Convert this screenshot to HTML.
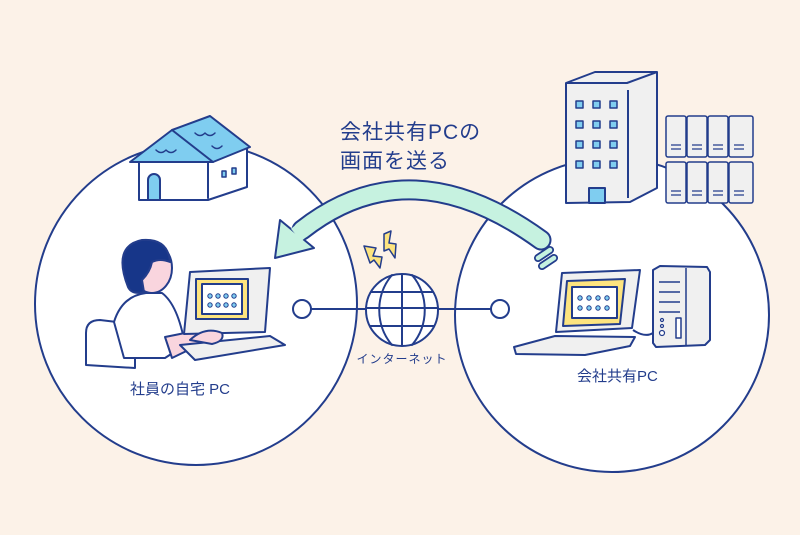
<!DOCTYPE html>
<html><head><meta charset="utf-8"><style>
html,body{margin:0;padding:0;background:#fcf2e8;}
svg{display:block}
text{font-family:"Liberation Sans","Noto Sans CJK JP",sans-serif;fill:#233d8c}
</style></head><body>
<svg width="800" height="535" viewBox="0 0 800 535" xmlns="http://www.w3.org/2000/svg">
<rect width="800" height="535" fill="#fcf2e8"/>
<g stroke="#233d8c" stroke-width="2" stroke-linejoin="round" stroke-linecap="round">
<circle cx="196" cy="304" r="161" fill="#fff"/>
<circle cx="612" cy="315" r="157" fill="#fff"/>
<line x1="311" y1="309" x2="491" y2="309"/>
<circle cx="302" cy="309" r="9" fill="#fff"/>
<circle cx="500" cy="309" r="9" fill="#fff"/>
<circle cx="402" cy="310" r="36" fill="#fff"/>
<path d="M402 274 V346 M371 292 H433 M366 308 H438 M370 326 H434 M392 275 C375 295 375 325 392 345 M412 275 C429 295 429 325 412 345" fill="none"/>
<path d="M364 246 L376 248 L373 256 L382 257 L380 268 L374 260 L370 263 Z" fill="#fde47f" stroke-width="1.5"/>
<path d="M384 234 L391 231 L389 243 L396 244 L395 258 L389 249 L384 251 Z" fill="#fde47f" stroke-width="1.5"/>
<path d="M541 240 Q410 145 302 230" fill="none" stroke="#233d8c" stroke-width="21" stroke-linecap="round"/>
<path d="M541 240 Q410 145 302 230" fill="none" stroke="#c6f2e0" stroke-width="17" stroke-linecap="round"/>
<path d="M275 258 L280 220 L314 248 Z" fill="#c6f2e0"/>
<path d="M306 227 L296 235" stroke="#c6f2e0" stroke-width="16" stroke-linecap="butt"/>
<path d="M538 258 L550 250 M542 266 L554 258" stroke="#233d8c" stroke-width="8"/>
<path d="M538 258 L550 250 M542 266 L554 258" stroke="#c6f2e0" stroke-width="4.5"/>
<path d="M139 162 L139 200 L208 200 L247 187 L247 148 L210 150 Z" fill="#fff"/>
<path d="M208 162 V198" />
<path d="M130 162 L172 130 L210 116 L250 147 L213 162 Z" fill="#7fcdf0"/>
<path d="M172 130 L213 162" fill="none"/>
<path d="M148 200 V180 A6 6 0 0 1 160 180 V200 Z" fill="#7fcdf0"/>
<rect x="222" y="171" width="4" height="6" fill="#7fcdf0" stroke-width="1.5"/>
<rect x="232" y="168" width="4" height="6" fill="#7fcdf0" stroke-width="1.5"/>
<path d="M156 150 q5 5 10 0 q5 5 10 0 M195 133 q5 5 10 0 q5 5 10 0 M212 146 q5 5 10 0" fill="none" stroke-width="1.5"/>
<path d="M86 365 L86 333 Q86 320 100 320 L125 323 Q135 326 135 338 L135 368 Z" fill="#fff"/>
<path d="M114 322 Q122 296 146 293 L162 293 Q178 305 185 345 L165 358 L124 358 Z" fill="#fff"/>
<ellipse cx="152" cy="268" rx="20" ry="25" fill="#f9d5de"/>
<path d="M128 287 Q112 246 142 240 Q168 238 170 262 Q160 258 152 262 Q150 272 142 280 L144 292 Q132 295 128 287 Z" fill="#173689"/>
<path d="M165 337 L200 330 L205 342 L172 358 Z" fill="#f9d5de"/>
<path d="M190 272 L270 268 L265 332 L184 334 Z" fill="#f0f0f0"/>
<rect x="196" y="279" width="52" height="40" fill="#fde47f"/>
<rect x="202" y="284" width="40" height="30" fill="#fff"/>
<path d="M180 345 L270 336 L285 345 L195 360 Z" fill="#f0f0f0"/>
<path d="M190 340 Q205 326 222 333 Q225 341 212 344 Z" fill="#f9d5de"/>
</g>
<g fill="#7fcdf0" stroke="#233d8c" stroke-width="1">
<circle cx="210" cy="296" r="2.2"/><circle cx="218" cy="296" r="2.2"/><circle cx="226" cy="296" r="2.2"/><circle cx="234" cy="296" r="2.2"/>
<circle cx="210" cy="305" r="2.2"/><circle cx="218" cy="305" r="2.2"/><circle cx="226" cy="305" r="2.2"/><circle cx="234" cy="305" r="2.2"/>
</g>
<g stroke="#233d8c" stroke-width="2" stroke-linejoin="round">
<path d="M566 83 L595 72 L657 72 L657 188 L630 202 L566 203 Z" fill="#f0f0f0"/>
<path d="M566 83 L627 83 L657 72 M628 90 V198" fill="none"/>
<rect x="589" y="188" width="16" height="15" fill="#7fcdf0"/>
<g fill="#7fcdf0" stroke-width="1.5">
<rect x="576" y="101" width="7" height="7"/><rect x="593" y="101" width="7" height="7"/><rect x="610" y="101" width="7" height="7"/>
<rect x="576" y="121" width="7" height="7"/><rect x="593" y="121" width="7" height="7"/><rect x="610" y="121" width="7" height="7"/>
<rect x="576" y="141" width="7" height="7"/><rect x="593" y="141" width="7" height="7"/><rect x="610" y="141" width="7" height="7"/>
<rect x="576" y="161" width="7" height="7"/><rect x="593" y="161" width="7" height="7"/><rect x="610" y="161" width="7" height="7"/>
</g>
<g fill="#f0f0f0" stroke-width="1.5">
<rect x="666" y="116" width="20" height="41" rx="2"/><rect x="687" y="116" width="20" height="41" rx="2"/><rect x="708" y="116" width="20" height="41" rx="2"/><rect x="729" y="116" width="24" height="41" rx="2"/>
<rect x="666" y="162" width="20" height="41" rx="2"/><rect x="687" y="162" width="20" height="41" rx="2"/><rect x="708" y="162" width="20" height="41" rx="2"/><rect x="729" y="162" width="24" height="41" rx="2"/>
</g>
<path d="M671 145 H681 M671 149 H681 M692 145 H702 M692 149 H702 M713 145 H723 M713 149 H723 M734 145 H744 M734 149 H744 M671 191 H681 M671 195 H681 M692 191 H702 M692 195 H702 M713 191 H723 M713 195 H723 M734 191 H744 M734 195 H744" stroke-width="1.3"/>
<path d="M562 273 L640 270 L632 328 L556 332 Z" fill="#f0f0f0"/>
<path d="M567 281 L625 279 L620 324 L563 326 Z" fill="#fde47f"/>
<rect x="572" y="287" width="45" height="31" fill="#fff"/>
<path d="M514 347 L555 336 L635 337 L630 346 L585 355 L516 354 Z" fill="#f0f0f0"/>
<path d="M633 330 Q645 338 653 333" fill="none"/>
<path d="M653 270 L660 266 L707 267 L710 272 L710 340 L705 345 L656 347 L653 343 Z" fill="#f0f0f0"/>
<path d="M686 268 V345 M659 282 H680 M659 292 H680 M659 302 H680 M659 312 H680" fill="none" stroke-width="1.5"/>
<rect x="676" y="318" width="5" height="20" fill="#fff" stroke-width="1.5"/>
<circle cx="662" cy="320" r="1.5" fill="#fff" stroke-width="1.2"/><circle cx="662" cy="326" r="1.5" fill="#fff" stroke-width="1.2"/><circle cx="662" cy="333" r="2.5" fill="#fff" stroke-width="1.2"/>
</g>
<g fill="#7fcdf0" stroke="#233d8c" stroke-width="1">
<circle cx="580" cy="298" r="2.2"/><circle cx="589" cy="298" r="2.2"/><circle cx="598" cy="298" r="2.2"/><circle cx="607" cy="298" r="2.2"/>
<circle cx="580" cy="308" r="2.2"/><circle cx="589" cy="308" r="2.2"/><circle cx="598" cy="308" r="2.2"/><circle cx="607" cy="308" r="2.2"/>
</g>
<text x="340" y="139" font-size="21" letter-spacing="1">会社共有PCの</text>
<text x="340" y="168" font-size="21" letter-spacing="1">画面を送る</text>
<text x="402" y="363" font-size="12" text-anchor="middle" letter-spacing="1">インターネット</text>
<text x="130" y="394" font-size="15">社員の自宅 PC</text>
<text x="577" y="381" font-size="15">会社共有PC</text>
</svg>
</body></html>
